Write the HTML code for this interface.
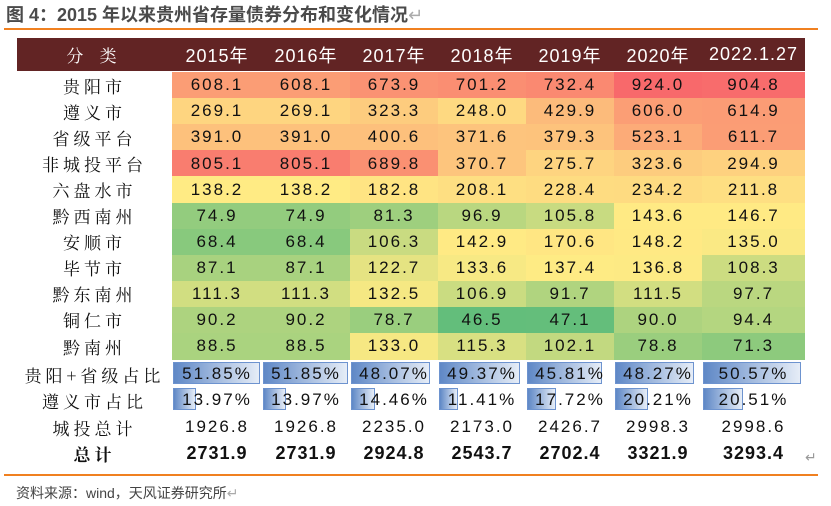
<!DOCTYPE html>
<html><head><meta charset="utf-8"><style>
body{margin:0;width:831px;height:506px;background:#fff;position:relative;overflow:hidden;font-family:"Liberation Sans","Noto Sans CJK SC",sans-serif}
.abs{position:absolute}
.cell{position:absolute;display:flex;align-items:center;justify-content:center;font-family:"Liberation Sans","Noto Sans CJK SC",sans-serif;font-size:17px;color:#111;letter-spacing:2px;white-space:nowrap}
.lab{font-family:"Noto Serif CJK SC",serif;letter-spacing:4px}
</style></head><body>
<div class="abs" style="left:6px;top:1px;font-size:18px;font-weight:bold;color:#4a4a4a">图 4：2015 年以来贵州省存量债券分布和变化情况<span style="color:#aaa;font-weight:normal">↵</span></div>
<div class="abs" style="left:4px;top:28px;width:814px;height:2px;background:#f08020"></div>
<div id="tbl"></div>
<div class="abs" style="left:4px;top:474px;width:814px;height:2px;background:#f08020"></div>
<div class="abs" style="left:805px;top:449px;color:#999;font-size:14px">↵</div>
<div class="abs" style="left:16px;top:483px;font-size:14px;color:#444">资料来源：wind，天风证券研究所<span style="color:#aaa">↵</span></div>
<script>
const headers=["2015年","2016年","2017年","2018年","2019年","2020年","2022.1.27"];
const categories=["贵阳市","遵义市","省级平台","非城投平台","六盘水市","黔西南州","安顺市","毕节市","黔东南州","铜仁市","黔南州"];
const values=[
[608.1,608.1,673.9,701.2,732.4,924.0,904.8],
[269.1,269.1,323.3,248.0,429.9,606.0,614.9],
[391.0,391.0,400.6,371.6,379.3,523.1,611.7],
[805.1,805.1,689.8,370.7,275.7,323.6,294.9],
[138.2,138.2,182.8,208.1,228.4,234.2,211.8],
[74.9,74.9,81.3,96.9,105.8,143.6,146.7],
[68.4,68.4,106.3,142.9,170.6,148.2,135.0],
[87.1,87.1,122.7,133.6,137.4,136.8,108.3],
[111.3,111.3,132.5,106.9,91.7,111.5,97.7],
[90.2,90.2,78.7,46.5,47.1,90.0,94.4],
[88.5,88.5,133.0,115.3,102.1,78.8,71.3]];
const shareGuiyang=[51.85,51.85,48.07,49.37,45.81,48.27,50.57];
const shareZunyi=[13.97,13.97,14.46,11.41,17.72,20.21,20.51];
const chengtouTotal=[1926.8,1926.8,2235.0,2173.0,2426.7,2998.3,2998.6];
const grandTotal=[2731.9,2731.9,2924.8,2543.7,2702.4,3321.9,3293.4];

const T=document.getElementById('tbl');
const colX=[172,262,350,438,526,614,702,805];
function add(x,y,w,h,txt,bg,extra,name){const d=document.createElement('div');d.className='cell';d.style.cssText+=`left:${x}px;top:${y}px;width:${w}px;height:${h}px;`+(bg?`background:${bg};`:'')+(extra||'');d.textContent=txt;


T.appendChild(d);return d;}
const hb=document.createElement('div');hb.className='abs';hb.style.cssText='left:17px;top:38px;width:788px;height:33px;background:#622424';


T.appendChild(hb);
add(17,38,155,33,'分 类',null,'color:#fff;letter-spacing:6px;font-family:"Noto Serif CJK SC",serif','header-category');
headers.forEach((h,i)=>add(colX[i],38,colX[i+1]-colX[i],33,h,null,'color:#fff;font-size:18px;letter-spacing:1px','header-year'));
const all=values.flat().slice().sort((a,b)=>a-b);
const mn=all[0],mx=all[all.length-1],md=all[Math.floor(all.length/2)];
function mix(c1,c2,t){return 'rgb('+c1.map((v,i)=>Math.round(v+(c2[i]-v)*t)).join(',')+')';}
const G=[99,190,123],Y=[255,235,132],R=[248,105,107];
function color(v){return v<=md?mix(G,Y,(v-mn)/(md-mn)):mix(Y,R,(v-md)/(mx-md));}
const rowH=26.1,y0=72;
categories.forEach((c,r)=>{const y=y0+r*rowH;
 add(17,y,155,rowH,c,null,'','category-label').classList.add('lab');
 values[r].forEach((v,i)=>add(colX[i],y,colX[i+1]-colX[i],rowH+0.5,v.toFixed(1),color(v),'','heat-cell'));});
const bmax=Math.max(...shareGuiyang);
function barRow(arr,y,label,name){add(17,y,155,24,label,null,'','ratio-label').classList.add('lab');
 arr.forEach((v,i)=>{const w=colX[i+1]-colX[i]-3;const bw=w*v/bmax;
 const b=document.createElement('div');b.className='abs';b.style.cssText=`left:${colX[i]+1}px;top:${y}px;width:${bw}px;height:22px;border:1px solid #6d93cf;background:linear-gradient(90deg,#5f88c6,#e6edf7);box-sizing:border-box`;
 
 
 T.appendChild(b);
 add(colX[i],y,colX[i+1]-colX[i],23,v.toFixed(2)+'%',null,'',name+'-value');});}
barRow(shareGuiyang,362,'贵阳+省级占比','guiyang-share-bar');
barRow(shareZunyi,388,'遵义市占比','zunyi-share-bar');
add(17,414,155,26,'城投总计',null,'','chengtou-total-label').classList.add('lab');
chengtouTotal.forEach((v,i)=>add(colX[i],414,colX[i+1]-colX[i],26,v.toFixed(1),null,'','chengtou-total-value'));
add(17,440,155,26,'总计',null,'font-weight:bold','grand-total-label').classList.add('lab');
grandTotal.forEach((v,i)=>add(colX[i],440,colX[i+1]-colX[i],26,v.toFixed(1),null,'font-weight:bold;font-size:18px;letter-spacing:1px','grand-total-value'));
</script>
</body></html>
